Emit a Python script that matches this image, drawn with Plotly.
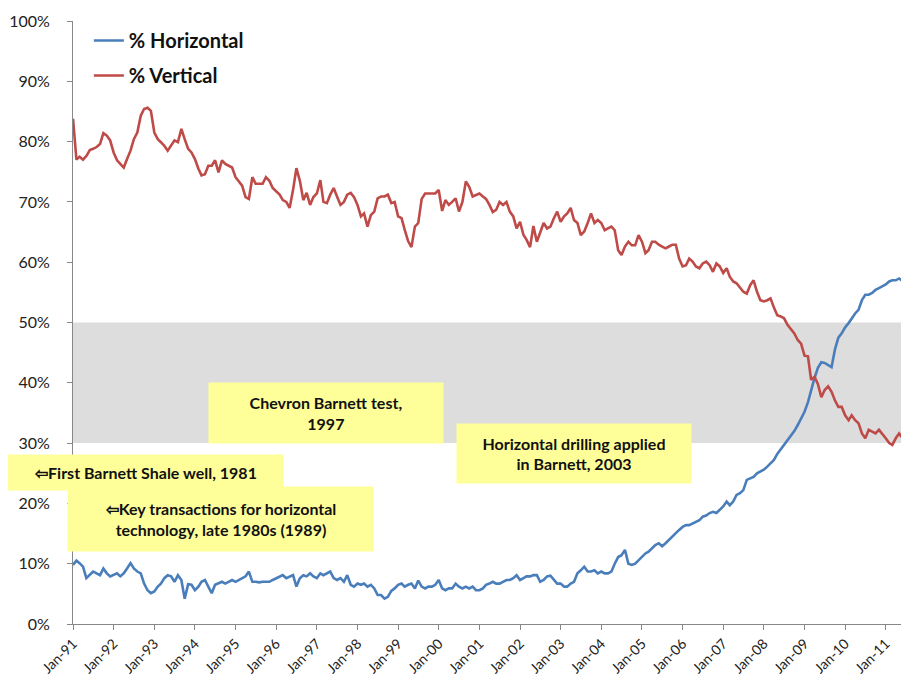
import pandas as pd
import plotly.graph_objects as go

# monthly readings, Jan-1991 .. Jul-2011 (% of rigs)
horizontal = [
    9.8, 10.5, 10.1, 9.5, 7.6, 8.1, 8.7, 8.4, 8.1, 9.2, 8.4, 7.9,
    8.1, 8.4, 7.9, 8.4, 9.2, 10.1, 9.2, 8.7, 8.4, 6.7, 5.6, 5.1,
    5.4, 6.2, 6.7, 7.6, 8.1, 7.9, 7.0, 8.1, 7.3, 4.2, 6.6, 6.5,
    5.6, 6.2, 7.0, 7.3, 6.2, 5.1, 6.5, 6.7, 7.0, 6.7, 7.0, 7.3,
    7.0, 7.3, 7.6, 7.9, 8.7, 7.0, 7.0, 6.9, 7.0, 7.0, 7.0, 7.3,
    7.6, 7.9, 8.1, 7.6, 7.9, 8.1, 6.2, 7.6, 8.1, 7.9, 8.4, 7.9,
    7.6, 8.4, 8.1, 8.4, 8.7, 7.6, 7.3, 7.6, 7.0, 8.1, 6.5, 6.2,
    6.7, 6.5, 6.7, 6.2, 6.5, 5.9, 4.8, 4.8, 4.2, 4.5, 5.5, 5.9,
    6.5, 6.7, 6.2, 6.5, 6.7, 5.9, 7.2, 6.2, 5.9, 6.2, 6.2, 6.5,
    7.3, 5.9, 5.6, 5.9, 5.9, 6.7, 6.2, 5.9, 6.2, 5.9, 6.2, 5.6,
    5.6, 5.9, 6.5, 6.7, 7.0, 6.7, 6.7, 7.0, 7.3, 7.3, 7.6, 8.1,
    7.3, 7.6, 7.9, 7.9, 8.1, 8.1, 7.0, 7.3, 7.9, 8.0, 7.3, 6.7,
    6.7, 6.2, 6.2, 6.7, 7.0, 8.4, 8.9, 9.5, 8.7, 8.7, 8.9, 8.4,
    8.7, 8.4, 8.4, 8.7, 10.0, 11.1, 11.4, 12.3, 10.0, 9.8, 10.0, 10.6,
    11.1, 11.7, 12.0, 12.6, 13.1, 13.4, 12.9, 13.4, 14.0, 14.5, 15.0, 15.6,
    16.1, 16.4, 16.4, 16.7, 17.0, 17.2, 17.8, 18.0, 18.4, 18.6, 18.4, 18.9,
    19.5, 20.3, 19.7, 20.3, 21.4, 21.7, 22.2, 23.9, 24.2, 24.4, 25.0, 25.3,
    25.6, 26.1, 26.6, 27.2, 28.2, 29.0, 29.6, 30.5, 31.2, 32.0, 33.0, 34.0,
    35.2, 36.8, 38.8, 40.8, 42.5, 43.4, 43.3, 43.0, 42.6, 45.5, 47.5, 48.2,
    49.2, 49.9, 50.7, 51.5, 52.1, 53.7, 54.6, 54.6, 54.9, 55.4, 55.7, 56.0,
    56.3, 56.8, 57.0, 57.0, 57.3, 56.9, 57.2,
]

vertical = [
    83.8, 77.0, 77.5, 77.0, 77.6, 78.6, 78.8, 79.1, 79.6, 81.4, 81.0, 80.2,
    78.2, 76.9, 76.3, 75.7, 77.1, 78.5, 80.4, 81.5, 84.3, 85.4, 85.6, 85.1,
    81.5, 80.4, 79.9, 79.3, 78.5, 79.3, 80.2, 79.9, 82.1, 80.4, 78.8, 78.2,
    77.1, 75.5, 74.4, 74.6, 76.0, 76.0, 76.9, 74.9, 76.9, 76.3, 76.0, 75.7,
    74.1, 73.3, 72.7, 70.8, 70.5, 74.1, 73.0, 73.0, 73.0, 74.1, 73.5, 72.3,
    71.7, 71.2, 70.3, 70.0, 69.0, 72.0, 75.6, 73.5, 70.3, 71.5, 69.5, 70.8,
    71.4, 73.6, 70.0, 69.8, 71.2, 72.3, 70.9, 69.5, 70.0, 71.2, 71.5, 70.8,
    69.5, 67.6, 68.1, 65.9, 67.8, 68.4, 70.6, 70.9, 70.9, 71.2, 69.8, 70.0,
    67.6, 67.3, 65.4, 63.5, 62.5, 65.9, 66.5, 70.5, 71.4, 71.4, 71.3, 71.4,
    72.0, 68.5, 70.3, 69.5, 70.0, 70.6, 68.4, 70.0, 73.4, 72.5, 70.9, 71.2,
    71.4, 70.9, 70.5, 69.5, 68.3, 68.7, 70.0, 69.5, 70.0, 68.4, 67.6, 65.6,
    66.7, 64.5, 63.7, 62.5, 66.0, 63.4, 64.8, 66.5, 65.6, 65.9, 67.3, 68.4,
    66.7, 67.6, 68.1, 69.0, 67.0, 66.5, 64.5, 65.1, 66.5, 68.1, 66.5, 67.0,
    66.5, 65.3, 65.6, 65.9, 65.3, 62.0, 61.2, 62.6, 63.4, 62.8, 62.8, 64.5,
    63.4, 61.5, 62.0, 63.4, 63.4, 62.9, 62.6, 62.3, 62.6, 62.9, 62.9, 60.6,
    59.3, 59.5, 60.6, 60.1, 59.3, 59.0, 59.8, 60.1, 59.5, 58.4, 59.8, 59.3,
    58.2, 59.0, 57.6, 56.8, 56.5, 55.7, 55.1, 54.8, 56.2, 57.0, 55.1, 53.7,
    53.5, 53.7, 54.0, 52.5, 51.2, 51.0, 50.7, 49.6, 48.8, 48.2, 47.1, 46.5,
    44.5, 44.4, 40.5, 41.0, 39.8, 37.6, 38.8, 39.4, 38.5, 37.1, 36.0, 36.0,
    34.6, 33.8, 34.6, 33.8, 33.3, 31.6, 30.8, 32.2, 31.9, 31.6, 32.2, 31.6,
    30.8, 30.0, 29.7, 30.8, 31.6, 30.8, 30.3,
]

dates = pd.date_range("1991-01-01", periods=len(vertical), freq="MS")

notes = [
    "Chevron Barnett test,<br>1997",
    "\u21e6First Barnett Shale well, 1981",
    "\u21e6Key transactions for horizontal<br>technology, late 1980s (1989)",
    "Horizontal drilling applied<br>in Barnett, 2003",
]

fig = go.Figure()
fig.add_trace(go.Scatter(x=dates, y=horizontal, mode="lines", name="<b>% Horizontal</b>",
                         line=dict(color="#4A7EBB", width=2.6), legendgroup="h"))
fig.add_trace(go.Scatter(x=dates, y=vertical, mode="lines", name="<b>% Vertical</b>",
                         line=dict(color="#BE4B48", width=2.6), legendgroup="v"))

# shaded 30-50% band
fig.add_shape(type="rect", xref="paper", yref="y", x0=0, x1=1, y0=30, y1=50,
              fillcolor="#DDDDDD", line_width=0, layer="below")

# page body has an 8px margin, so the figure is drawn 8px smaller
W, H = 835, 603  # plot area in px (page x 73..908, y 21..624)


def box(text, left, top, right, bottom):
    fig.add_annotation(text="<b>" + text + "</b>", xref="paper", yref="paper",
                       x=((left + right) / 2 - 73) / W, y=(624 - (top + bottom) / 2) / H,
                       xanchor="center", yanchor="middle",
                       width=right - left, height=bottom - top, borderpad=0,
                       bgcolor="#FFFF99", showarrow=False, align="center",
                       font=dict(family="Lato, sans-serif", size=16, color="#111"))


box(notes[0], 209, 383, 443, 443)
box(notes[1], 8, 455, 283, 490)
box(notes[2], 68, 487, 373, 551)
box(notes[3], 457, 424, 691, 483)

fig.update_layout(
    width=901, height=667,
    margin=dict(l=65, r=1, t=13, b=51, autoexpand=False),
    plot_bgcolor="white", paper_bgcolor="white",
    font=dict(family="Lato, sans-serif", size=16, color="#222"),
    showlegend=True,
    legend=dict(x=0.019, y=1.0, xanchor="left", yanchor="top", bgcolor="rgba(0,0,0,0)",
                font=dict(size=20, color="#111"), tracegroupgap=6),
    xaxis=dict(type="date", range=["1991-01-01", "2011-07-20"], dtick="M12",
               tick0="1991-01-01", tickformat="%b-%y", tickangle=-45,
               tickfont=dict(size=14), automargin=False,
               showgrid=False, showline=True, linecolor="#888", linewidth=1,
               ticks="outside", ticklen=5, tickcolor="#888", zeroline=False),
    yaxis=dict(range=[0, 100], dtick=10, ticksuffix="%", showgrid=False,
               ticklabelstandoff=14, automargin=False,
               showline=True, linecolor="#888", linewidth=1,
               ticks="outside", ticklen=5, tickcolor="#888", zeroline=False),
)

fig.write_html("out.html")
